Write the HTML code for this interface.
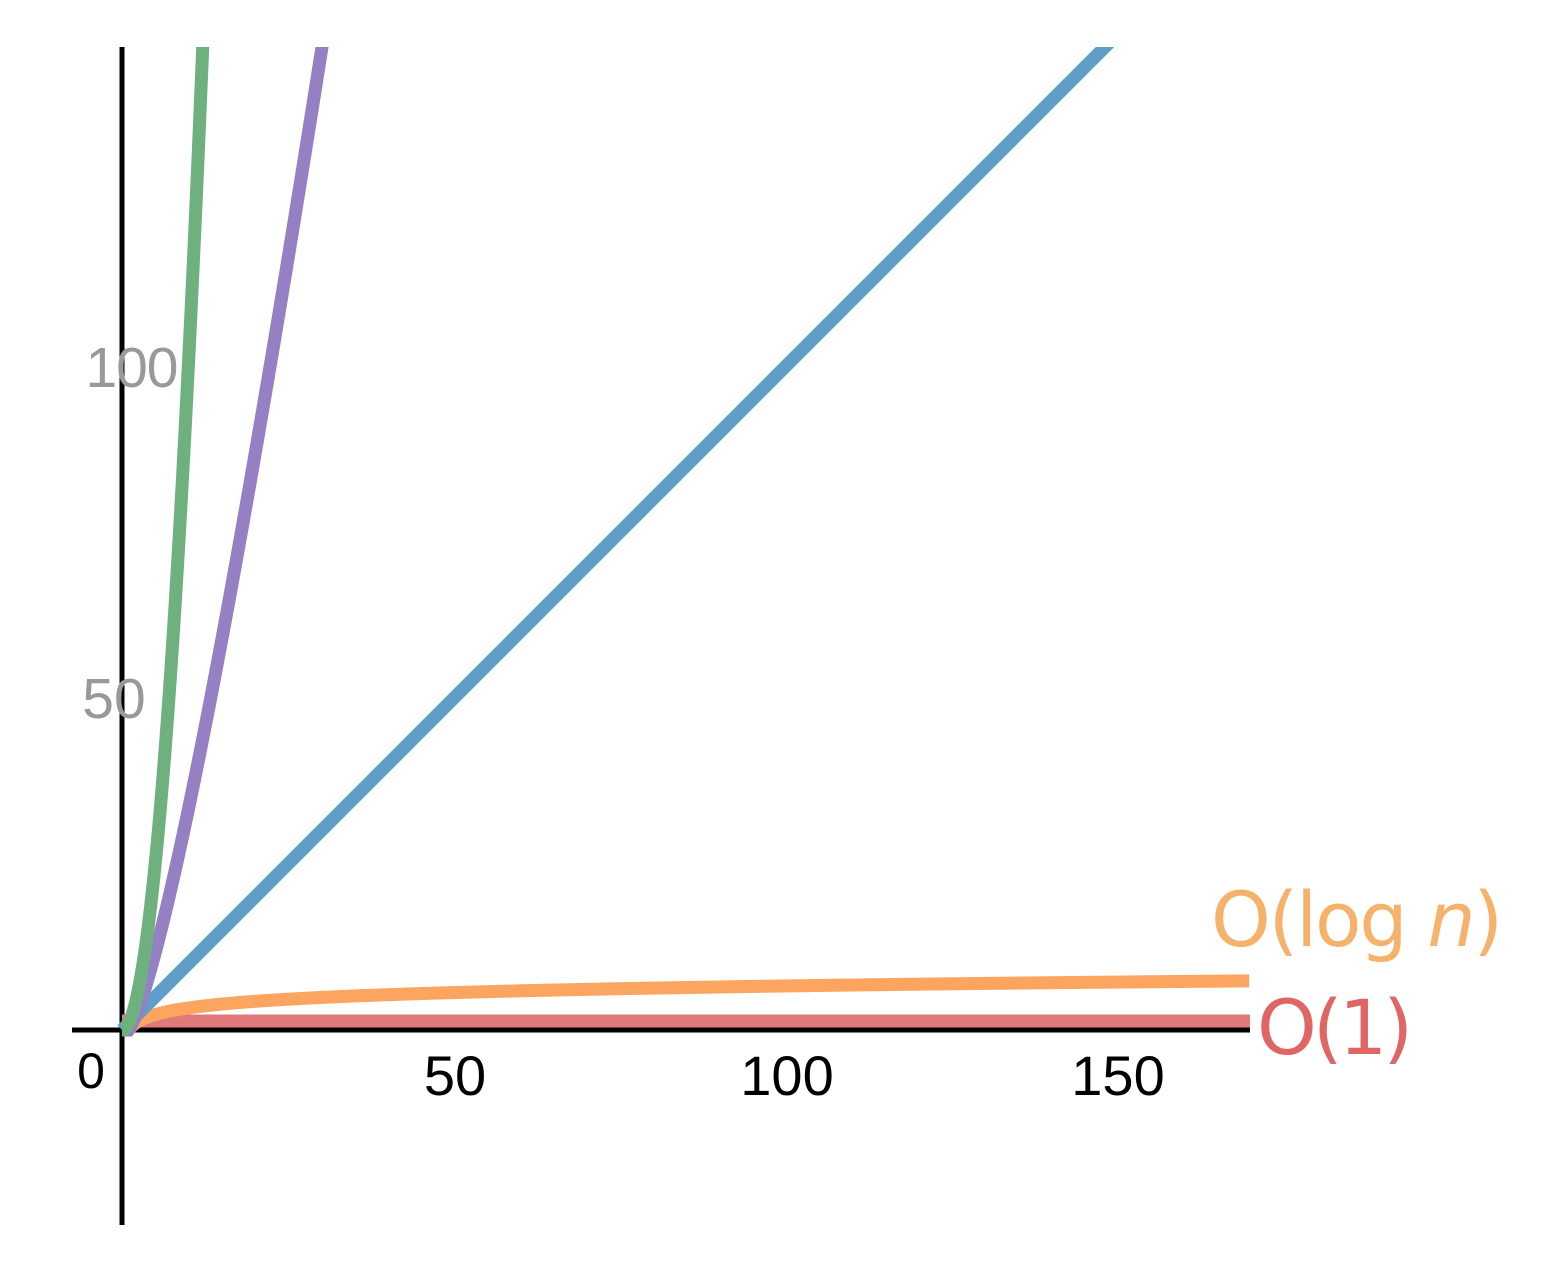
<!DOCTYPE html>
<html><head><style>
html,body{margin:0;padding:0;background:#fff;width:1556px;height:1264px;overflow:hidden}
</style></head><body>
<svg id="s" width="1556" height="1264" viewBox="0 0 1556 1264" xmlns="http://www.w3.org/2000/svg">
<defs><clipPath id="c"><rect x="60" y="47" width="1190" height="1200"/></clipPath></defs>
<line x1="72" y1="1030" x2="1250" y2="1030" stroke="#000" stroke-width="5"/>
<line x1="122" y1="47" x2="122" y2="1225" stroke="#000" stroke-width="5"/>
<g clip-path="url(#c)" fill="none" stroke-width="13" id="g">
<line x1="122" y1="1021" x2="1250" y2="1021" stroke="#e07a7a"/>
</g>
<g font-family="'Liberation Sans',sans-serif">
<text x="132" y="387" font-size="57" fill="#999" text-anchor="middle" textLength="93">100</text>
<text x="114" y="718" font-size="57" fill="#999" text-anchor="middle">50</text>
<text x="91" y="1088" font-size="50" fill="#000" text-anchor="middle">0</text>
<text x="455" y="1095" font-size="56" fill="#000" text-anchor="middle">50</text>
<text x="787" y="1095" font-size="56" fill="#000" text-anchor="middle">100</text>
<text x="1118" y="1095" font-size="56" fill="#000" text-anchor="middle">150</text>
</g>
<g font-family="'DejaVu Sans','Liberation Sans',sans-serif">
<text x="1211" y="946" font-size="76" fill="#f6b26b" textLength="292">O(log <tspan font-style="italic">n</tspan>)</text>
<text x="1257" y="1054" font-size="76" fill="#e06666" textLength="156">O(1)</text>
</g>
</svg>
<script>
var g=document.getElementById('g'),ox=122,oy=1030,k=6.63;
function add(f,col,max){var d='';for(var i=0;i<=2000;i++){var x=max*i/2000;var y=f(x);if(y>200)y=200;d+=(i?'L':'M')+(ox+x*k).toFixed(2)+' '+(oy-y*k).toFixed(2);if(y>=200)break;}
var p=document.createElementNS('http://www.w3.org/2000/svg','path');p.setAttribute('d',d);p.setAttribute('stroke',col);g.appendChild(p);}
add(function(x){return x<1?x*0:Math.log2(x)},'#fca561',170);
add(function(x){return x},'#5f9ec9',170);
add(function(x){return x<1?x*0:x*Math.log2(x)},'#9480c2',40);
add(function(x){return x*x},'#6fb07f',20);
</script>
</body></html>
